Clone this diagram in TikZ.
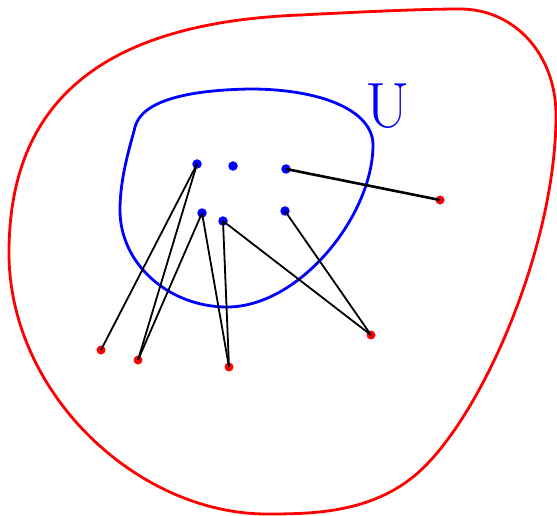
\documentclass[tikz,border=0pt]{standalone}
\usepackage{tikz}
\begin{document}
\begin{tikzpicture}[
x=1pt, y=-1pt,
bdot/.style={circle, fill=blue, inner sep=0pt, minimum size=9.5pt},
rdot/.style={circle, fill=red, inner sep=0pt, minimum size=9pt},
link/.style={black, line width=1.8pt}
]
\useasboundingbox (0,0) rectangle (557,516);

% outer set
\draw[red, line width=2.8pt] (300,15)
  .. controls (360,12) and (420,9) .. (460,9)
  .. controls (515,9) and (556,55) .. (556,115)
  .. controls (556,250) and (478,425) .. (413,477)
  .. controls (368,513) and (312,514) .. (267,514)
  .. controls (137,514) and (9,393) .. (9,253)
  .. controls (9,103) and (100,23) .. (300,15) -- cycle;

% inner set U
\draw[blue, line width=2.8pt] (250,89)
  .. controls (320,89) and (373,110) .. (373,145)
  .. controls (373,215) and (300,307) .. (227,307)
  .. controls (170,307) and (120,265) .. (120,210)
  .. controls (120,175) and (132,140) .. (135,127)
  .. controls (142,100) and (190,90) .. (250,89) -- cycle;
\node[blue, font=\fontsize{64}{64}\selectfont, anchor=center] (lbl) at (388,106) {U};

% points
\node[bdot] (b1) at (197,164) {};
\node[bdot] (b2) at (233,166) {};
\node[bdot] (b3) at (286,169) {};
\node[bdot] (b4) at (202,213) {};
\node[bdot] (b5) at (223,221) {};
\node[bdot] (b6) at (285,211) {};
\node[rdot] (r1) at (101,350) {};
\node[rdot] (r2) at (138,360) {};
\node[rdot] (r3) at (229,367) {};
\node[rdot] (r4) at (371,335) {};
\node[rdot] (r5) at (440,200) {};

\draw[link] (b1.center) -- (r1.center);
\draw[link] (b1.center) -- (r2.center);
\draw[link] (b4.center) -- (r2.center);
\draw[link] (b4.center) -- (r3.center);
\draw[link] (b5.center) -- (r3.center);
\draw[link] (b5.center) -- (r4.center);
\draw[link] (b6.center) -- (r4.center);
\draw[link, line width=2.6pt] (b3.center) -- (r5.center);
\end{tikzpicture}
\end{document}
